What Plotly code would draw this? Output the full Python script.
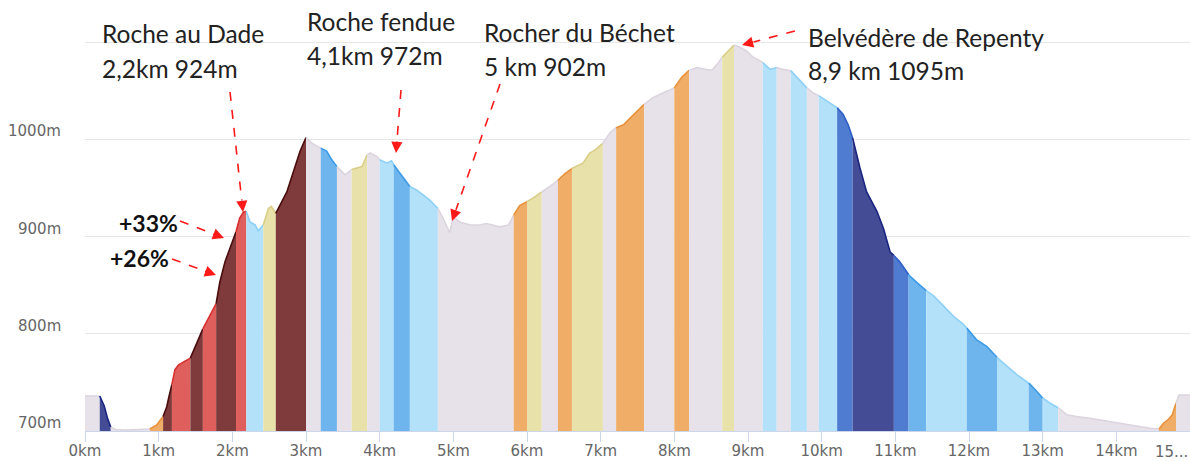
import numpy as np
import plotly.graph_objects as go

# ---------------- data ----------------
dist_km = [0.00, 0.20, 0.26, 0.31, 0.35, 0.42, 0.54, 0.71, 0.88, 0.97, 1.06, 1.11, 1.14, 1.18,
           1.22, 1.27, 1.36, 1.43, 1.47, 1.54, 1.60, 1.67, 1.74, 1.78, 1.83, 1.90, 1.97, 2.05,
           2.10, 2.15, 2.19, 2.24, 2.31, 2.35, 2.42, 2.49, 2.53, 2.59, 2.74, 2.83, 2.92, 3.00,
           3.08, 3.20, 3.28, 3.35, 3.42, 3.53, 3.62, 3.76, 3.83, 3.87, 3.96, 4.00, 4.10, 4.16,
           4.19, 4.28, 4.34, 4.41, 4.50, 4.59, 4.68, 4.79, 4.86, 4.95, 5.00, 5.09, 5.23, 5.36,
           5.45, 5.63, 5.75, 5.82, 5.90, 6.00, 6.11, 6.20, 6.31, 6.42, 6.52, 6.62, 6.76, 6.85,
           6.92, 7.03, 7.13, 7.21, 7.31, 7.40, 7.49, 7.59, 7.71, 7.85, 8.00, 8.10, 8.20, 8.30,
           8.42, 8.51, 8.60, 8.65, 8.73, 8.81, 8.88, 8.98, 9.07, 9.16, 9.20, 9.30, 9.39, 9.48,
           9.58, 9.66, 9.75, 9.80, 9.88, 9.96, 10.07, 10.14, 10.21, 10.29, 10.36, 10.42, 10.52,
           10.61, 10.75, 10.84, 10.93, 10.98, 11.06, 11.19, 11.29, 11.42, 11.52, 11.65, 11.79,
           11.92, 11.98, 12.10, 12.24, 12.39, 12.51, 12.65, 12.83, 12.90, 13.00, 13.10, 13.22,
           13.33, 13.46, 13.64, 13.78, 13.96, 14.14, 14.32, 14.46, 14.58, 14.64, 14.70, 14.76,
           14.81, 14.85, 15.00]
elev_m = [736, 736, 726, 712, 704, 701.5, 701, 701.5, 702, 706, 715, 725, 735.5, 748,
          763, 768, 772, 775, 782, 794, 805, 815, 825, 831, 853, 874, 888, 905,
          919, 925, 926, 915, 912, 906, 912, 929, 931, 924, 946, 967, 988, 1002,
          996, 991, 988, 979, 972, 963.5, 969, 972, 984, 986, 982.6, 979, 975.6, 978,
          974, 965, 958, 951.5, 948, 943, 937.6, 929, 919, 904, 920, 915, 912, 912,
          913.5, 910, 912, 922, 932, 936, 941, 946, 951.5, 958, 965, 970.5, 975.6, 986,
          989, 996, 1007, 1012, 1015, 1022, 1029, 1036, 1043, 1048, 1053, 1064, 1071, 1074,
          1072, 1071, 1079, 1084.5, 1091, 1097, 1095, 1091, 1084.5, 1081, 1079, 1072, 1074, 1072,
          1070.7, 1064, 1057, 1053, 1048, 1045, 1040, 1036, 1032.6, 1026, 1015, 1001.5, 970.5,
          946, 926, 908, 884, 880.6, 874, 860, 853, 844.4, 839, 829, 818,
          810, 805, 794, 787, 775, 767, 758, 748, 742.5, 734, 728.6, 723.5,
          716.6, 714.8, 713.2, 711.4, 709.6, 707.3, 704.5, 702.8, 702, 708, 711.4, 716.6,
          728.6, 737, 737]

band_edges_km = [0, 0.2, 0.35, 0.88, 1.06, 1.18, 1.43, 1.6, 1.78, 2.05, 2.19, 2.42, 2.59, 3.0,
                 3.2, 3.42, 3.62, 3.83, 4.0, 4.19, 4.41, 4.79, 5.82, 6.0, 6.2, 6.42, 6.61, 7.03,
                 7.21, 7.59, 8.0, 8.2, 8.65, 8.81, 9.2, 9.39, 9.58, 9.8, 9.96, 10.21, 10.42,
                 10.98, 11.18, 11.42, 11.97, 12.38, 12.81, 13.0, 13.21, 14.58, 14.81, 15.0]
band_class = ["flat", "navy", "flat", "orange", "brown", "red", "brown", "red", "brown", "red",
              "lightblue", "khaki", "brown", "flat", "blue", "flat", "khaki", "flat",
              "lightblue", "blue", "lightblue", "flat", "orange", "khaki", "flat", "orange",
              "khaki", "flat", "orange", "flat", "orange", "flat", "khaki", "flat",
              "lightblue", "flat", "lightblue", "flat", "lightblue", "medblue", "navy",
              "medblue", "blue", "lightblue", "blue", "lightblue", "blue", "lightblue",
              "flat", "orange", "flat"]

x_tick_vals = list(range(0, 15))
x_tick_text = [f"{v}km" for v in x_tick_vals]
y_tick_vals = [700, 800, 900, 1000, 1100]
y_tick_text = ["700m", "800m", "900m", "1000m", ""]

# ---------------- styles ----------------
FILL = {"flat": "#e7e1ea", "navy": "#444c95", "medblue": "#4f7bd1", "blue": "#6db5ec",
        "lightblue": "#b3e1f9", "khaki": "#e8e1a9", "orange": "#efad68", "red": "#de5f5c",
        "brown": "#7f3a3b"}
LINE = {"flat": "#dcd4df", "navy": "#1a2580", "medblue": "#2f5fc8", "blue": "#3d9ae6",
        "lightblue": "#8fd0f6", "khaki": "#d9ce88", "orange": "#e8913a", "red": "#d8302e",
        "brown": "#4a0c0c"}

X0, KMPX, Y0, MPX = 85.0, 1105.0 / 15.0, 431.0, 431.0 / 443.4


def dx(px):
    return (px - X0) / KMPX


def dy(py):
    return 700 + (Y0 - py) / MPX


fig = go.Figure()
d = np.array(dist_km)
e = np.array(elev_m)
for i, cls in enumerate(band_class):
    a, b = band_edges_km[i], band_edges_km[i + 1]
    xs = [a] + [v for v in dist_km if a < v < b] + [b]
    ys = np.interp(xs, d, e)
    fig.add_trace(go.Scatter(x=xs, y=ys, mode="lines", fill="tozeroy",
                             fillcolor=FILL[cls], line=dict(color=LINE[cls], width=1.6),
                             hoverinfo="skip", showlegend=False))

# ---------------- y tick labels (placed just above their gridlines) ----------------
for v, t in zip(y_tick_vals, y_tick_text):
    if t:
        fig.add_annotation(xref="paper", yref="y", x=(63 - X0) / 1105.0, y=v + 8 / MPX,
                           text=t, showarrow=False, xanchor="right", yanchor="middle",
                           font=dict(family="DejaVu Sans", size=15, color="#666666"))

# ---------------- annotations ----------------
TXT_FONT = dict(family="Lato, Carlito, sans-serif", size=24.5, color="#222222")
labels = [
    ("Roche au Dade", 100, 33), ("2,2km 924m", 100, 68),
    ("Roche fendue", 305, 21), ("4,1km 972m", 305, 55),
    ("Rocher du Béchet", 482, 32), ("5 km 902m", 482, 66),
    ("Belvédère de Repenty", 806, 37), ("8,9 km 1095m", 806, 70),
]
for t, px, py in labels:
    fig.add_annotation(x=dx(px), y=dy(py), text=t, showarrow=False, xanchor="left",
                       yanchor="middle", font=TXT_FONT)

pct = [("+33%", 148, 223), ("+26%", 139, 258)]
for t, px, py in pct:
    fig.add_annotation(x=dx(px), y=dy(py), text=f"<b>{t}</b>", showarrow=False,
                       xanchor="center", yanchor="middle",
                       font=dict(family="Lato, Carlito, sans-serif", size=23, color="#111111"))

arrows = [((230, 92), (243, 212)), ((401, 90), (396, 153)), ((500, 84), (452, 221)),
          ((795, 31), (742, 45)), ((180, 221), (224, 238)), ((172, 259), (216, 275))]
RED = "#ff1a1a"
for (sx, sy), (tx, ty) in arrows:
    L = np.hypot(tx - sx, ty - sy)
    ux, uy = (tx - sx) / L, (ty - sy) / L
    hx, hy = tx - ux * 12, ty - uy * 12
    fig.add_shape(type="line", xref="x", yref="y", x0=dx(sx), y0=dy(sy), x1=dx(hx), y1=dy(hy),
                  line=dict(color=RED, width=1.6, dash="dash"))
    fig.add_annotation(x=dx(tx), y=dy(ty), ax=-ux * 13, ay=-uy * 13, text="",
                       showarrow=True, arrowhead=2, arrowsize=1.4, arrowwidth=1.6,
                       arrowcolor=RED, standoff=0)

fig.add_annotation(xref="paper", yref="paper", x=1.0, y=-21 / 431, text="15...",
                   showarrow=False, xanchor="right", yanchor="middle",
                   font=dict(family="DejaVu Sans", size=15, color="#666666"))

fig.update_layout(
    width=1190, height=461, margin=dict(l=85, r=0, t=0, b=30, autoexpand=False),
    paper_bgcolor="white", plot_bgcolor="white",
    xaxis=dict(range=[0, 15], tickvals=x_tick_vals, ticktext=x_tick_text, showgrid=False,
               zeroline=False, showline=True, linecolor="#ccd6eb", linewidth=1,
               ticks="outside", ticklen=10, tickcolor="#ccd6eb", automargin=False,
               ticklabelstandoff=-4,
               tickfont=dict(family="DejaVu Sans", size=15, color="#666666")),
    yaxis=dict(range=[700, 1143.4], tickvals=y_tick_vals, ticktext=y_tick_text,
               showgrid=True, gridcolor="#e6e6e6", zeroline=False, showline=False,
               ticks="", showticklabels=False, automargin=False),
)

fig.write_html("out.html", config={"displayModeBar": False},
               post_script="document.body.style.margin='0';document.body.style.padding='0';")
